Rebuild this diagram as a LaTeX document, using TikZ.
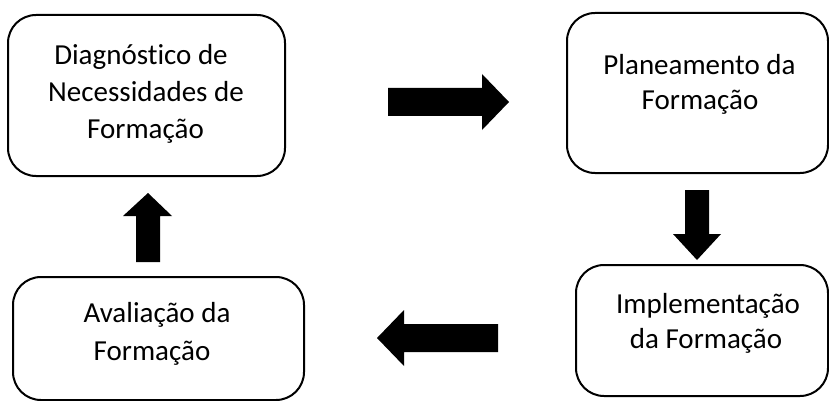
\documentclass[tikz,border=0pt]{standalone}
\usepackage{fontspec}
\setmainfont[Ligatures=NoCommon]{Carlito}
\begin{document}
\begin{tikzpicture}[x=1pt,y=-1pt,
  box/.style={draw=black, line width=2pt, rounded corners=28pt, inner sep=0pt},
  txt/.style={anchor=base, inner sep=0pt, font=\fontsize{29}{36}\selectfont},
  blockarrow/.style={fill=black, draw=none}]
\useasboundingbox (0,0) rectangle (829,401);
% boxes
\node[box, minimum width=277pt, minimum height=161pt] (b1) at (146.5,95.5) {};
\node[box, minimum width=261pt, minimum height=160pt] (b2) at (697.5,93) {};
\node[box, minimum width=252pt, minimum height=131pt] (b3) at (702,330.5) {};
\node[box, minimum width=291pt, minimum height=123pt] (b4) at (158.5,338.5) {};
% texts
\node[txt] (t1a) at (141,65) {Diagnóstico de};
\node[txt] (t1b) at (146,102) {Necessidades de};
\node[txt] (t1c) at (145.5,138) {Formação};
\node[txt] (t2a) at (699.5,75) {Planeamento da};
\node[txt] (t2b) at (700,110) {Formação};
\node[txt] (t3a) at (708,313) {Implementação};
\node[txt] (t3b) at (706,348) {da Formação};
\node[txt] (t4a) at (157,322) {Avaliação da};
\node[txt] (t4b) at (152,360) {Formação};
% right arrow
\fill[blockarrow] (388,88) -- (482,88) -- (482,74) -- (509,102) -- (482,130) -- (482,116) -- (388,116) -- cycle;
% down arrow
\fill[blockarrow] (685,190) -- (709,190) -- (709,234) -- (721,234) -- (697,260) -- (673,234) -- (685,234) -- cycle;
% left arrow
\fill[blockarrow] (498,324) -- (404,324) -- (404,310) -- (377,338) -- (404,366) -- (404,352) -- (498,352) -- cycle;
% up arrow
\fill[blockarrow] (136,262) -- (136,216) -- (123,216) -- (148,193) -- (172,216) -- (160,216) -- (160,262) -- cycle;
\end{tikzpicture}
\end{document}
